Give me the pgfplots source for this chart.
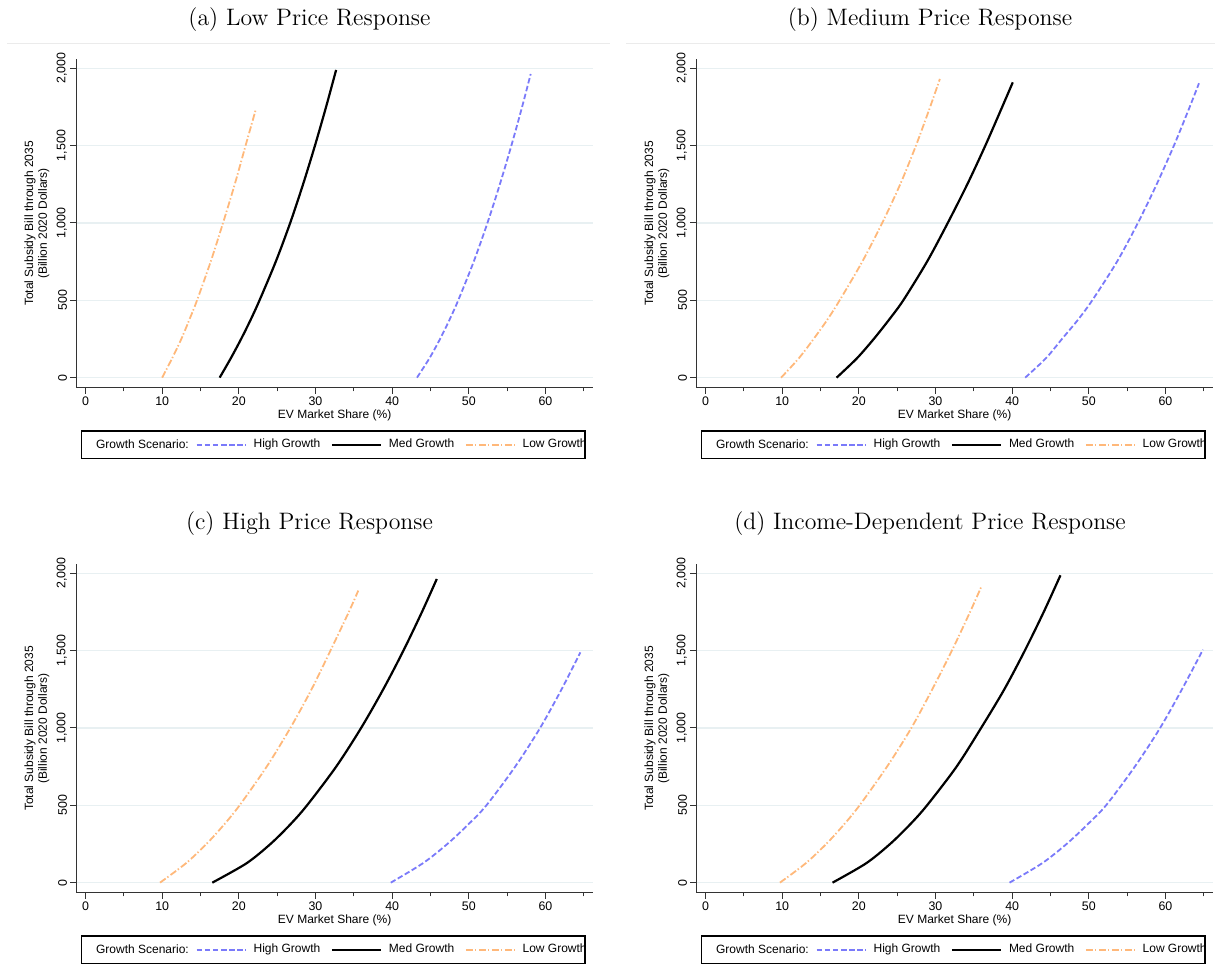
\documentclass[border=0pt]{standalone}
\usepackage{pgfplots}
\pgfplotsset{compat=1.18}
\usepackage{fontspec}
\newfontfamily\arial{Liberation Sans}
\definecolor{hiblue}{RGB}{122,122,250}
\definecolor{loorange}{RGB}{255,184,122}
\definecolor{gridc}{RGB}{232,240,242}

\pgfplotsset{
  evstyle/.style={
    scale only axis, width=258.35pt, height=164.2pt,
    xmin=-1.2, xmax=66.2, ymin=-65, ymax=2058,
    axis x line*=bottom, axis y line*=left,
    axis line style={black!80, line width=0.6pt},
    xtick={0,10,...,60}, minor xtick={5,15,...,65},
    ytick={0,500,...,2000},
    tick align=outside, major tick length=3pt, minor tick length=1.8pt,
    tick style={black!80, line width=0.5pt},
    ymajorgrids, grid style={gridc, line width=0.6pt},
    scaled y ticks=false,
    /pgf/number format/1000 sep={,},
    /pgf/number format/assume math mode=true,
    tick label style={font=\arial\fontsize{6.2}{7}\selectfont},
    yticklabel style={rotate=90, anchor=south, inner sep=1.5pt},
    xticklabel style={inner sep=1.5pt},
    xlabel={EV Market Share (\%)},
    ylabel={Total Subsidy Bill through 2035\\(Billion 2020 Dollars)},
    label style={font=\arial\fontsize{6}{6.85}\selectfont},
    xlabel style={at={(axis description cs:0.5,-0.0831)}, anchor=center},
    ylabel style={at={(axis description cs:-0.0763,0.5)}, anchor=center, align=center},
    legend columns=-1,
    legend style={draw=none, fill=none, at={(axis description cs:0.2305,-0.1736)}, anchor=west,
      inner xsep=0pt, inner ysep=0pt, font=\arial\fontsize{6}{7}\selectfont,
      nodes={inner sep=0pt},
      /tikz/every odd column/.style={column sep=3.5pt},
      /tikz/every even column/.style={column sep=5.25pt}},
    legend image code/.code={\draw[#1] (0pt,0pt) -- (24.5pt,0pt);},
  },
  hi/.style={hiblue, line width=0.9pt, dash pattern=on 2.75pt off 1.3pt, smooth},
  med/.style={black, line width=1.1pt, smooth},
  lo/.style={loorange, line width=0.9pt, dash pattern=on 3.5pt off 1pt on 0.7pt off 1.3pt, smooth},
}

\begin{document}
\begin{tikzpicture}
\path[use as bounding box] (0,0) rectangle (607.5pt,489.5pt);

% titles
\node[anchor=base, font=\rmfamily\fontsize{11.9}{13}\selectfont] at (154.75pt,476.5pt) {(a) Low Price Response};
\node[anchor=base, font=\rmfamily\fontsize{11.9}{13}\selectfont] at (465pt,476.5pt) {(b) Medium Price Response};
\node[anchor=base, font=\rmfamily\fontsize{11.9}{13}\selectfont] at (154.75pt,224.5pt) {(c) High Price Response};
\node[anchor=base, font=\rmfamily\fontsize{11.9}{13}\selectfont] at (465pt,224.5pt) {(d) Income-Dependent Price Response};
\draw[black!8, line width=0.5pt] (3.5pt,467.85pt) -- (305pt,467.85pt);
\draw[black!8, line width=0.5pt] (313pt,467.85pt) -- (607.5pt,467.85pt);

% legend frames and lead text
\foreach \lx/\ly in {0pt/0pt, 310pt/0pt, 0pt/-252.5pt, 310pt/-252.5pt}{
  \begin{scope}[shift={(\lx,\ly)}]
  \draw[black, line width=0.6pt] (40.85pt,260.35pt) rectangle (292.5pt,274pt);
  \node[anchor=base west, inner sep=0pt, font=\arial\fontsize{6}{7}\selectfont] at (47.85pt,265pt) {Growth Scenario:};
  \end{scope}
}

% (a)
\begin{axis}[evstyle, at={(38.15pt,295.65pt)}, anchor=south west]
\addplot[hi] coordinates {(43.24,0) (44.86,125) (46.25,250) (47.49,375) (48.62,500) (50.64,750) (52.43,1000) (54.05,1250) (55.55,1500) (56.95,1750) (58.07,1963)};
\addlegendentry{High Growth}
\addplot[med] coordinates {(17.5,0) (18.95,125) (20.3,250) (21.55,375) (22.7,500) (24.82,750) (26.7,1000) (28.38,1250) (29.93,1500) (31.38,1750) (32.69,1989)};
\addlegendentry{Med Growth}
\addplot[lo] coordinates {(10.0,0) (11.3,125) (12.5,250) (13.55,375) (14.55,500) (16.33,750) (17.94,1000) (19.47,1250) (20.88,1500) (22.2,1731)};
\addlegendentry{Low Growth}
\end{axis}

% (b)
\begin{axis}[evstyle, at={(348.15pt,295.65pt)}, anchor=south west]
\addplot[hi] coordinates {(41.7,0) (44.4,125) (46.5,250) (48.6,375) (50.45,500) (53.68,750) (56.4,1000) (58.85,1250) (61.1,1500) (63.16,1750) (64.37,1903)};
\addlegendentry{High Growth}
\addplot[med] coordinates {(17.1,0) (19.75,125) (21.95,250) (23.95,375) (25.8,500) (28.9,750) (31.6,1000) (34.15,1250) (36.5,1500) (38.7,1750) (40.08,1909)};
\addlegendentry{Med Growth}
\addplot[lo] coordinates {(9.86,0) (12.17,125) (14.1,250) (15.9,375) (17.5,500) (20.45,750) (23.05,1000) (25.4,1250) (27.45,1500) (29.3,1750) (30.57,1931)};
\addlegendentry{Low Growth}
\end{axis}

% (c)
\begin{axis}[evstyle, at={(38.15pt,43.15pt)}, anchor=south west]
\addplot[hi] coordinates {(39.82,0) (44.0,125) (47.2,250) (49.9,375) (52.3,500) (56.05,750) (59.3,1000) (62.1,1250) (64.55,1489)};
\addlegendentry{High Growth}
\addplot[med] coordinates {(16.54,0) (21.0,125) (24.13,250) (26.69,375) (28.9,500) (32.7,750) (35.95,1000) (38.84,1250) (41.47,1500) (43.89,1750) (45.82,1963)};
\addlegendentry{Med Growth}
\addplot[lo] coordinates {(9.72,0) (13.1,125) (15.78,250) (18.07,375) (20.1,500) (23.64,750) (26.72,1000) (29.49,1250) (31.95,1500) (34.35,1750) (35.58,1888)};
\addlegendentry{Low Growth}
\end{axis}

% (d)
\begin{axis}[evstyle, at={(348.15pt,43.15pt)}, anchor=south west]
\addplot[hi] coordinates {(39.66,0) (43.9,125) (47.1,250) (49.8,375) (52.25,500) (56.0,750) (59.3,1000) (62.15,1250) (64.89,1506)};
\addlegendentry{High Growth}
\addplot[med] coordinates {(16.57,0) (20.95,125) (24.08,250) (26.66,375) (28.9,500) (32.75,750) (35.95,1000) (38.98,1250) (41.65,1500) (44.12,1750) (46.3,1987)};
\addlegendentry{Med Growth}
\addplot[lo] coordinates {(9.71,0) (13.07,125) (15.75,250) (18.05,375) (20.1,500) (23.68,750) (26.85,1000) (29.58,1250) (32.14,1500) (34.51,1750) (35.94,1909)};
\addlegendentry{Low Growth}
\end{axis}
\end{tikzpicture}
\end{document}
